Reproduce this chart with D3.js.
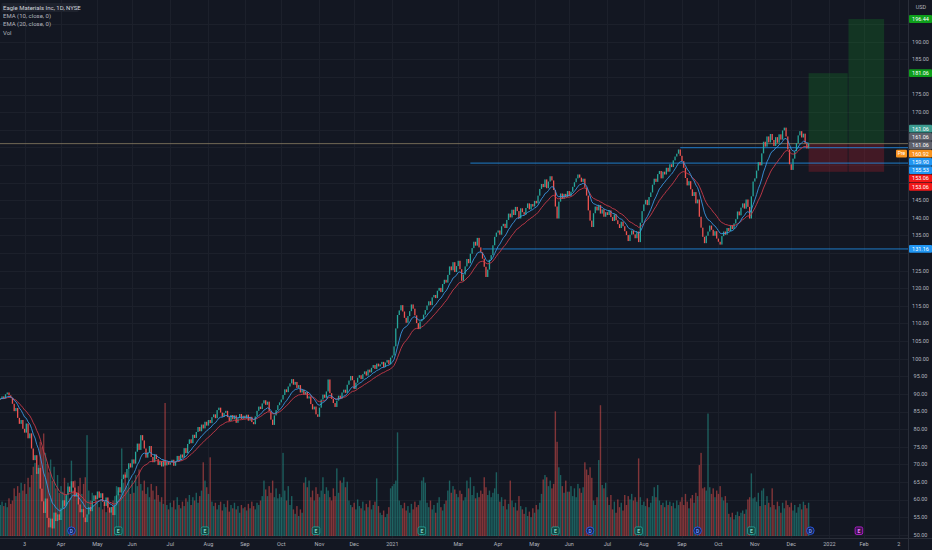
<!DOCTYPE html>
<html>
<head>
<meta charset="utf-8">
<script src="https://cdn.jsdelivr.net/npm/d3@7"></script>
<style>
html, body { margin: 0; padding: 0; background: #131722; overflow: hidden; }
svg { display: block; font-family: Roboto, "Noto Sans", sans-serif; }
</style>
</head>
<body>
<svg id="chart" width="932" height="550"></svg>
<script>
// market holidays skipped by the daily bars
const holidays = ["2020-02-17", "2020-04-10", "2020-05-25", "2020-07-03", "2020-09-07", "2020-11-26", "2020-12-25",
	"2021-01-01", "2021-01-18", "2021-02-15", "2021-04-02", "2021-05-31", "2021-07-05", "2021-09-06", "2021-11-25",
	"2021-12-24", "2022-01-17", "2022-02-21"];

// daily closes, 11 Feb 2020 .. 31 Dec 2020 (one line per month)
const closes2020 = [
	88.6, 89.3, 88.7, 89.9, 90.4, 89.6, 88.9, 87.2, 85.1, 86.0, 83.2, 81.5, 82.6,
	80.1, 79.0, 81.6, 77.4, 78.8, 74.5, 71.2, 72.6, 67.3, 69.0, 63.1, 59.5, 56.2, 60.3, 54.8, 52.1, 54.6, 51.8, 56.3, 53.9, 55.8, 54.2,
	57.5, 59.8, 58.2, 61.4, 63.7, 62.1, 65.2, 63.4, 60.8, 61.9, 58.6, 56.4, 57.3, 54.9, 53.6, 55.8, 57.9, 56.7, 59.6, 61.2, 60.1,
	62.3, 60.5, 61.8, 59.4, 58.2, 60.6, 57.7, 56.3, 57.9, 55.6, 58.4, 61.2, 63.5, 62.0, 65.8, 67.1, 66.2, 68.7, 70.3, 69.1,
	71.4, 70.2, 73.6, 75.9, 74.1, 78.3, 76.8, 74.5, 71.9, 73.4, 75.2, 72.1, 70.6, 72.8, 71.5, 69.8, 70.9, 69.4, 71.2, 69.7, 70.8, 69.9,
	70.5, 71.3, 69.6, 70.9, 72.4, 71.1, 72.8, 71.9, 74.6, 73.2, 75.8, 77.1, 76.0, 78.4, 77.5, 79.2, 80.6, 79.4, 81.3, 80.2, 82.1, 81.0,
	82.6, 81.7, 83.4, 84.2, 83.1, 85.4, 86.1, 84.7, 83.5, 84.6, 85.2, 83.4, 82.3, 84.0, 82.8, 83.9, 81.8, 83.1, 84.3, 82.9, 83.8,
	83.0, 84.1, 82.4, 83.5, 82.0, 81.4, 83.6, 85.2, 86.4, 85.7, 87.3, 88.2, 86.9, 87.8, 85.1, 82.7, 81.2, 83.9, 85.4, 86.8, 87.6,
	88.4, 89.7, 91.3, 90.5, 92.1, 93.0, 94.2, 92.6, 93.4, 91.7, 92.5, 90.4, 91.2, 89.8, 90.6, 88.7, 89.3, 87.1, 85.6, 86.4, 84.2, 83.5,
	86.1, 88.4, 89.8, 88.9, 90.7, 94.1, 90.2, 88.6, 87.4, 86.3, 88.1, 89.5, 88.7, 90.4, 91.2, 90.3, 92.6, 93.8, 95.1, 93.9,
	91.4, 93.2, 94.6, 95.3, 94.2, 95.6, 96.4, 95.2, 96.9, 96.1, 97.4, 98.2, 97.1, 98.6, 97.8, 98.4, 99.1, 97.6, 98.9, 99.6, 98.4, 100.3
];

// daily closes, 4 Jan 2021 .. 15 Dec 2021
const closes2021 = [
	100.9, 103.5, 108.6, 112.4, 113.7, 115.2, 113.4, 111.6, 110.2, 112.1, 113.5, 115.4, 114.2, 112.3, 110.1, 108.4, 110.6, 111.2, 112.5,
	113.8, 115.1, 116.3, 115.2, 117.4, 118.1, 117.2, 119.3, 120.1, 118.9, 121.2, 122.4, 121.6, 123.8, 126.2, 125.1, 127.4, 124.6, 126.3,
	127.8, 125.4, 122.1, 123.9, 126.2, 128.3, 127.1, 129.8, 131.4, 133.2, 132.1, 134.3, 131.6, 130.2, 128.4, 126.1, 123.2, 125.3, 128.1, 129.4, 132.2, 134.6, 135.8,
	136.4, 135.2, 137.6, 138.3, 137.1, 139.4, 141.2, 140.1, 142.3, 140.8, 143.1, 141.9, 139.8, 142.7, 141.6, 140.9, 142.8, 144.1, 142.4, 143.9, 143.2,
	144.8, 144.1, 146.3, 148.2, 149.6, 148.7, 150.9, 148.4, 150.3, 151.8, 150.6, 147.9, 143.2, 139.8, 144.6, 146.9, 145.4, 146.8, 145.9, 147.6,
	146.2, 147.4, 148.8, 150.1, 151.2, 152.3, 151.4, 150.2, 151.1, 148.6, 146.3, 142.1, 139.2, 137.4, 141.3, 143.2, 142.1, 143.6, 141.2, 142.4, 140.3, 141.6,
	140.8, 142.1, 140.2, 139.1, 141.0, 139.3, 138.2, 137.1, 138.9, 137.6, 136.2, 135.1, 133.4, 135.2, 136.4, 135.3, 134.2, 136.1, 133.1, 138.6, 141.9,
	143.8, 145.1, 143.6, 145.9, 147.2, 149.4, 151.1, 150.2, 152.4, 153.3, 151.2, 153.1, 152.3, 154.2, 153.1, 155.2, 154.4, 156.3, 157.4, 158.2, 159.4, 157.6,
	156.1, 154.2, 151.3, 149.2, 150.4, 148.1, 146.2, 147.3, 144.1, 145.2, 140.3, 137.2, 134.6, 132.8, 134.9, 136.1, 137.8, 136.6, 134.9, 136.2, 134.1,
	133.2, 132.4, 134.8, 136.1, 135.2, 137.1, 136.2, 137.9, 136.8, 138.4, 139.6, 141.8, 140.7, 142.9, 144.1, 142.6, 145.2, 143.1, 139.8, 146.1, 150.3,
	151.2, 153.4, 155.8, 154.9, 158.3, 161.6, 160.2, 163.1, 161.4, 163.8, 162.1, 160.4, 162.9, 161.3, 163.7, 162.2, 164.8, 165.6, 163.1, 159.4, 155.2,
	153.6, 156.8, 158.9, 161.2, 163.4, 164.6, 162.8, 163.9, 161.1, 159.7, 161.06
];

// daily volume, thousands of shares
const volumes2020 = [
	560, 620, 540, 600, 520, 680, 580, 640, 860, 720, 900, 780, 960,
	820, 940, 760, 1050, 880, 1100, 1250, 1320, 1150, 1280, 1700, 1600, 1850, 1500, 1300, 1150, 1380, 1000, 1250, 860, 1100, 780,
	900, 800, 1050, 720, 960, 680, 1360, 820, 1000, 700, 900, 1050, 760, 940, 1060, 1820, 820, 640, 780, 560, 700,
	620, 520, 660, 480, 560, 430, 600, 520, 460, 640, 720, 900, 820, 760, 1580, 960, 1150, 880, 1240, 760,
	1000, 780, 1100, 900, 1200, 940, 820, 1000, 760, 880, 700, 940, 820, 660, 900, 740, 620, 700, 580, 2400, 560, 480,
	600, 520, 640, 480, 700, 560, 500, 620, 540, 680, 620, 740, 560, 700, 640, 780, 600, 720, 820, 1330, 1000, 880,
	760, 1420, 620, 540, 600, 480, 560, 620, 460, 580, 520, 640, 440, 560, 500, 600, 480, 540, 420, 560, 500,
	520, 460, 580, 500, 620, 540, 480, 600, 560, 640, 720, 1000, 840, 720, 900, 780, 1000, 700, 860, 680, 760,
	700, 1500, 820, 640, 900, 560, 720, 480, 400, 540, 360, 480, 420, 960, 1060, 880, 1000, 700, 820, 640, 880, 760,
	700, 820, 1060, 760, 880, 820, 700, 640, 860, 720, 1220, 780, 1000, 960, 1060, 880, 980, 640, 560, 520,
	600, 480, 660, 540, 500, 620, 460, 580, 520, 640, 480, 560, 620, 1040, 540, 420, 380, 460, 340, 400, 520, 860
];

const volumes2021 = [
	900, 940, 1000, 1870, 640, 560, 500, 600, 460, 540, 420, 580, 480, 620, 520, 560, 640, 1000, 1060,
	960, 600, 520, 640, 480, 560, 420, 600, 700, 520, 460, 580, 640, 820, 1000, 780, 900, 840, 760,
	700, 820, 760, 640, 700, 1000, 860, 1060, 740, 900, 680, 780, 700, 820, 760, 1060, 880, 740, 820, 700, 780, 860, 1150,
	760, 620, 700, 540, 660, 480, 580, 1000, 640, 520, 600, 460, 720, 540, 480, 400, 520, 360, 440, 340, 500,
	420, 560, 480, 600, 760, 1020, 1100, 1060, 900, 1000, 860, 940, 2250, 1700, 1240, 1100, 900, 780, 1000, 800,
	800, 900, 720, 860, 700, 940, 860, 780, 880, 1330, 1200, 1100, 1240, 1050, 640, 560, 700, 1370, 2360, 920, 860, 960,
	700, 560, 740, 480, 620, 420, 660, 520, 600, 460, 740, 560, 720, 660, 760, 640, 700, 620, 1400, 700, 560,
	620, 540, 680, 520, 600, 720, 880, 700, 920, 640, 560, 600, 520, 640, 560, 620, 540, 600, 500, 640, 560, 620,
	700, 560, 760, 620, 500, 680, 740, 600, 780, 720, 1280, 1500, 860, 880, 820, 2210, 880, 760, 860, 700, 820,
	760, 900, 700, 640, 720, 600, 400, 340, 420, 300, 380, 440, 360, 420, 460, 400, 480, 660, 700, 1130, 680,
	700, 620, 780, 540, 820, 860, 560, 720, 600, 520, 860, 560, 480, 620, 540, 420, 600, 500, 640, 560, 520,
	600, 460, 560, 420, 520, 580, 480, 620, 560, 500, 600
];

const monthTicks = [
	["2020-03-03", "3"], ["2020-04-01", "Apr"], ["2020-05-01", "May"], ["2020-06-01", "Jun"], ["2020-07-01", "Jul"],
	["2020-08-03", "Aug"], ["2020-09-01", "Sep"], ["2020-10-01", "Oct"], ["2020-11-02", "Nov"], ["2020-12-01", "Dec"],
	["2021-01-04", "2021"], ["2021-03-01", "Mar"], ["2021-04-01", "Apr"], ["2021-05-03", "May"], ["2021-06-01", "Jun"],
	["2021-07-01", "Jul"], ["2021-08-02", "Aug"], ["2021-09-01", "Sep"], ["2021-10-01", "Oct"], ["2021-11-01", "Nov"],
	["2021-12-01", "Dec"], ["2022-01-03", "2022"], ["2022-02-01", "Feb"], ["2022-03-02", "2"]
];

const priceTicks = [50, 55, 60, 65, 70, 75, 80, 85, 90, 95, 100, 105, 110, 115, 120, 125, 130, 135, 140, 145,
	150, 155, 160, 165, 170, 175, 180, 185, 190, 195];

// dividends (D) and earnings (E, F = upcoming earnings)
const events = [
	["2020-04-09", "D"], ["2020-05-19", "E"], ["2020-07-30", "E"], ["2020-10-29", "E"], ["2021-01-28", "E"],
	["2021-05-19", "E"], ["2021-06-17", "D"], ["2021-07-28", "E"], ["2021-09-15", "D"], ["2021-10-28", "E"],
	["2021-12-16", "D"], ["2022-01-27", "F"]
];

// horizontal rays drawn on the chart: price, start date
const rays = [[159.90, "2021-08-31"], [155.53, "2021-03-10"], [131.16, "2021-03-19"]];

// long position tools: start, end, entry, stop, target
const positions = [
	["2021-12-15", "2022-01-19", 161.06, 153.06, 181.06],
	["2022-01-19", "2022-02-17", 161.06, 153.06, 196.44]
];

const lastPrice = 161.06;

const legendLines = ["Eagle Materials Inc, 1D, NYSE", "EMA (10, close, 0)", "EMA (20, close, 0)", "Vol"];

const axisLabels = [
	{ value: 196.44, color: "#0e9f1b" },
	{ value: 181.06, color: "#0e9f1b" },
	{ value: 161.06, color: "#3c9c90" },
	{ value: 161.06, color: "#5d606b" },
	{ value: 161.06, color: "#5d606b" },
	{ value: 160.92, color: "#f7931e", tag: "Pre" },
	{ value: 159.90, color: "#2196f3" },
	{ value: 155.53, color: "#2196f3" },
	{ value: 153.06, color: "#f21818" },
	{ value: 153.06, color: "#f21818" },
	{ value: 131.16, color: "#2196f3" }
];

const svg = d3.select("svg#chart");
const width = +svg.attr("width");
const height = +svg.attr("height");
const plotWidth = 908;
const plotHeight = 538;

// trading-day calendar
const fmt = d3.utcFormat("%Y-%m-%d");
const dates = [];
for (let d = new Date(Date.UTC(2020, 1, 11)); d < new Date(Date.UTC(2022, 2, 20)); d = d3.utcDay.offset(d, 1)) {
	const wd = d.getUTCDay();
	if (wd === 0 || wd === 6 || holidays.includes(fmt(d))) continue;
	dates.push(fmt(d));
}
const idx = new Map(dates.map((d, i) => [d, i]));

const closes = closes2020.concat(closes2021);
const volumes = volumes2020.concat(volumes2021);
const bars = closes.map((c, i) => {
	const o = i === 0 ? c : closes[i - 1];
	return { i: i, open: o, close: c, volume: volumes[i], up: c >= o };
});

function ema(values, n) {
	const k = 2 / (n + 1);
	let prev = values[0];
	return values.map((v) => (prev = v * k + prev * (1 - k)));
}
const ema10 = ema(closes, 10);
const ema20 = ema(closes, 20);

const x = d3.scaleLinear([-0.18, 523.3], [0, plotWidth]);
const y = d3.scaleLinear([49.09, 201.84], [plotHeight, 0]);
const vol = d3.scaleLinear([0, d3.max(volumes)], [0, 133]);
const volBase = 536;

svg.append("rect").attr("width", width).attr("height", height).attr("fill", "#131722");

const plot = svg.append("g");
plot.append("clipPath").attr("id", "clip")
	.append("rect").attr("width", plotWidth).attr("height", plotHeight);
const area = plot.append("g").attr("clip-path", "url(#clip)");

// grid
area.selectAll("hgrid").data(priceTicks).enter().append("line")
	.attr("x1", 0).attr("x2", plotWidth)
	.attr("y1", (d) => Math.round(y(d)) + 0.5).attr("y2", (d) => Math.round(y(d)) + 0.5)
	.attr("stroke", "#1c202b").attr("stroke-width", 1);
area.selectAll("vgrid").data(monthTicks).enter().append("line")
	.attr("x1", (d) => Math.round(x(idx.get(d[0]))) + 0.5).attr("x2", (d) => Math.round(x(idx.get(d[0]))) + 0.5)
	.attr("y1", 0).attr("y2", plotHeight)
	.attr("stroke", "#1c202b").attr("stroke-width", 1);

// position tools
positions.forEach((p) => {
	const x0 = x(idx.get(p[0]));
	const x1 = x(idx.get(p[1]));
	area.append("rect")
		.attr("x", x0).attr("width", x1 - x0 - 0.8)
		.attr("y", y(p[4])).attr("height", y(p[2]) - y(p[4]))
		.attr("fill", "rgba(22,150,40,0.24)");
	area.append("rect")
		.attr("x", x0).attr("width", x1 - x0 - 0.8)
		.attr("y", y(p[2])).attr("height", y(p[3]) - y(p[2]))
		.attr("fill", "rgba(200,30,45,0.26)");
});

// volume
area.selectAll("volBars").data(bars).enter().append("rect")
	.attr("x", (d) => x(d.i) - 0.7)
	.attr("width", 1.4)
	.attr("y", (d) => volBase - vol(d.volume))
	.attr("height", (d) => vol(d.volume))
	.attr("fill", (d) => (d.up ? "#26a69a" : "#ef5350"))
	.attr("fill-opacity", 0.5);

// last price line
area.append("line")
	.attr("x1", 0).attr("x2", plotWidth)
	.attr("y1", y(lastPrice)).attr("y2", y(lastPrice))
	.attr("stroke", "#8a7d62").attr("stroke-width", 0.8);

// horizontal rays
area.selectAll("rays").data(rays).enter().append("line")
	.attr("x1", (d) => x(idx.get(d[1]))).attr("x2", plotWidth)
	.attr("y1", (d) => y(d[0])).attr("y2", (d) => y(d[0]))
	.attr("stroke", "#2196f3").attr("stroke-width", 0.8);

// candles (body spans previous close to close)
area.selectAll("candles").data(bars).enter().append("rect")
	.attr("x", (d) => x(d.i) - 0.65)
	.attr("width", 1.3)
	.attr("y", (d) => y(Math.max(d.open, d.close)))
	.attr("height", (d) => Math.max(1, Math.abs(y(d.open) - y(d.close))))
	.attr("fill", (d) => (d.up ? "#26a69a" : "#ef5350"));

// EMAs
const line = (arr) => d3.line().x((d, i) => x(i)).y((d) => y(d))(arr);
area.append("path").attr("d", line(ema20)).attr("fill", "none")
	.attr("stroke", "#c93a4a").attr("stroke-width", 0.9);
area.append("path").attr("d", line(ema10)).attr("fill", "none")
	.attr("stroke", "#3a96e0").attr("stroke-width", 0.9);

// event markers
const markerY = 530.7;
const mk = area.selectAll("events").data(events).enter().append("g")
	.attr("transform", (d) => `translate(${x(idx.get(d[0]))},${markerY})`);
mk.filter((d) => d[1] === "D").append("circle")
	.attr("r", 3.8).attr("fill", "#182452").attr("stroke", "#2962ff").attr("stroke-width", 0.8);
mk.filter((d) => d[1] !== "D").append("rect")
	.attr("x", -3.8).attr("y", -3.8).attr("width", 7.6).attr("height", 7.6).attr("rx", 1.6)
	.attr("fill", (d) => (d[1] === "E" ? "#134640" : "#3f1450"))
	.attr("stroke", (d) => (d[1] === "E" ? "#26a69a" : "#c41fe0")).attr("stroke-width", 0.8);
mk.append("text")
	.attr("text-anchor", "middle").attr("dy", "0.36em")
	.attr("font-size", 5).attr("font-weight", "bold")
	.attr("fill", (d) => (d[1] === "D" ? "#6b94ff" : d[1] === "E" ? "#7fd3c9" : "#f07cff"))
	.text((d) => (d[1] === "D" ? "D" : "E"));

// legend
svg.append("rect").attr("x", 1.5).attr("y", 3).attr("width", 77).attr("height", 9)
	.attr("fill", "#1e222d").attr("rx", 1);
svg.selectAll("legend").data(legendLines).enter().append("text")
	.attr("x", 3).attr("y", (d, i) => 7.6 + i * 8.3)
	.attr("dy", "0.35em")
	.attr("font-size", 6)
	.attr("fill", (d, i) => (i === 0 ? "#d1d4dc" : "#b2b5be"))
	.text((d) => d);

// axis borders
svg.append("line").attr("x1", plotWidth + 0.5).attr("x2", plotWidth + 0.5).attr("y1", 0).attr("y2", height)
	.attr("stroke", "#2a2e39");
svg.append("line").attr("x1", 0).attr("x2", width).attr("y1", plotHeight + 0.5).attr("y2", plotHeight + 0.5)
	.attr("stroke", "#2a2e39");

// time axis
svg.selectAll("xticks").data(monthTicks).enter().append("text")
	.attr("x", (d) => x(idx.get(d[0])))
	.attr("y", 544)
	.attr("dy", "0.35em")
	.attr("text-anchor", "middle")
	.attr("font-size", 5.5)
	.attr("fill", "#b2b5be")
	.text((d) => d[1]);

// stack price labels so they do not overlap
const labelH = 8.3;
let groups = axisLabels
	.map((d, k) => ({ d: d, k: k, py: y(d.value) }))
	.sort((a, b) => a.py - b.py || a.k - b.k)
	.map((it) => ({ items: [it] }));
const centerOf = (g) => (g.items[0].py + g.items[g.items.length - 1].py) / 2;
let merged = true;
while (merged) {
	merged = false;
	for (let j = 0; j < groups.length - 1; j++) {
		const a = groups[j], b = groups[j + 1];
		const aBottom = centerOf(a) + (a.items.length * labelH) / 2;
		const bTop = centerOf(b) - (b.items.length * labelH) / 2;
		if (aBottom > bTop) {
			groups.splice(j, 2, { items: a.items.concat(b.items) });
			merged = true;
			break;
		}
	}
}
const placed = [];
groups.forEach((g) => {
	const top = centerOf(g) - (g.items.length * labelH) / 2;
	g.items.forEach((it, n) => placed.push({ ...it.d, ly: top + (n + 0.5) * labelH }));
});

// price axis ticks, hidden where a price label covers them
const visibleTicks = priceTicks.filter((t) => placed.every((p) => Math.abs(y(t) - p.ly) > labelH));
svg.selectAll("yticks").data(visibleTicks).enter().append("text")
	.attr("x", 920.5)
	.attr("y", (d) => y(d))
	.attr("dy", "0.35em")
	.attr("text-anchor", "middle")
	.attr("font-size", 5.5)
	.attr("fill", "#b2b5be")
	.text((d) => d3.format(".2f")(d));
svg.append("text").attr("x", 921).attr("y", 7).attr("dy", "0.35em")
	.attr("text-anchor", "middle").attr("font-size", 5.5).attr("fill", "#b2b5be").text("USD");

const lab = svg.selectAll("priceLabels").data(placed).enter().append("g")
	.attr("transform", (d) => `translate(0,${d.ly})`);
lab.append("rect")
	.attr("x", plotWidth + 1).attr("y", -3.9).attr("width", width - plotWidth - 1).attr("height", 7.8)
	.attr("rx", 1).attr("fill", (d) => d.color);
lab.append("text")
	.attr("x", 920.5).attr("dy", "0.35em").attr("text-anchor", "middle")
	.attr("font-size", 5.5).attr("fill", "#ffffff")
	.text((d) => d3.format(".2f")(d.value));
lab.filter((d) => d.tag).append("rect")
	.attr("x", plotWidth - 12).attr("y", -3.9).attr("width", 11).attr("height", 7.8)
	.attr("rx", 1).attr("fill", (d) => d.color);
lab.filter((d) => d.tag).append("text")
	.attr("x", plotWidth - 6.5).attr("dy", "0.35em").attr("text-anchor", "middle")
	.attr("font-size", 5).attr("fill", "#ffffff")
	.text((d) => d.tag);
</script>
</body>
</html>
